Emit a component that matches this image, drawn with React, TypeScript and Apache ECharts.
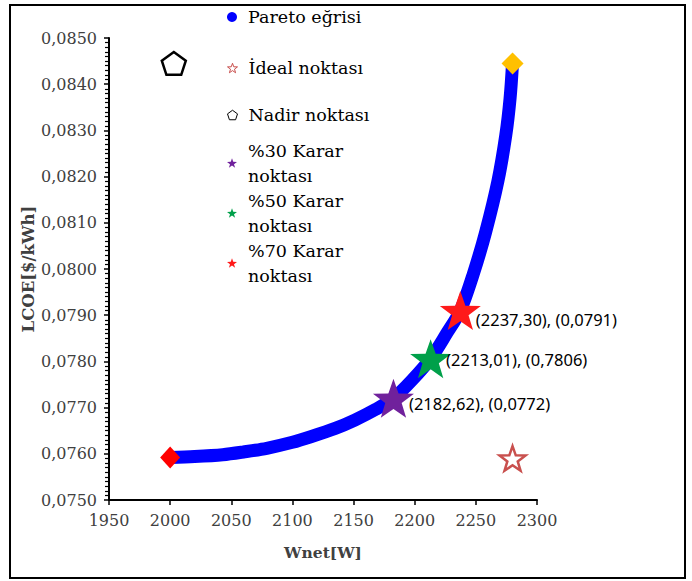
import React, { useEffect, useRef } from "react";
import * as echarts from "echarts";

// Pareto curve (Wnet [W], LCOE [$/kWh])
const paretoW = [2000, 2020, 2043, 2060, 2079, 2100, 2115, 2135, 2151, 2168, 2182.6, 2198, 2213, 2226, 2237.3, 2248, 2258, 2268, 2274.5, 2278, 2280];
const paretoLCOE = [0.07592, 0.07594, 0.07598, 0.07604, 0.07612, 0.07625, 0.07637, 0.07655, 0.07673, 0.07696, 0.0772, 0.0776, 0.07806, 0.0786, 0.0791, 0.0799, 0.0808, 0.0819, 0.0829, 0.0837, 0.08445];

// end points of the front
const minEndPoint = [2000, 0.07592];
const maxEndPoint = [2280, 0.08445];

// ideal and nadir points
const idealPoint = [2280, 0.0759];
const nadirPoint = [2003, 0.08445];

// decision points
const decisionNames = ["%30 Karar noktası", "%50 Karar noktası", "%70 Karar noktası"];
const decisionW = [2182.62, 2213.01, 2237.3];
const decisionLCOE = [0.0772, 0.07806, 0.0791];
const decisionLabels = ["(2182,62), (0,0772)", "(2213,01), (0,7806)", "(2237,30), (0,0791)"];
const decisionColors = ["#70219c", "#00a04a", "#ff1a1a"];
const decisionLabelOffsets = [[0, 5], [0, 1], [0, 9]];

// axis ticks
const xMin = 1950, xMax = 2300, xStep = 50;
const yMin = 0.075, yMax = 0.085, yStep = 0.001;

const STAR = "path://M100,0 L123.5,67.6 L195.1,69.1 L138,112.4 L158.8,180.9 L100,140 L41.2,180.9 L62,112.4 L4.9,69.1 L76.5,67.6 Z";
const PENTAGON = "path://M100,0 L195.1,69.1 L158.8,180.9 L41.2,180.9 L4.9,69.1 Z";

const SERIF = "DejaVu Serif";
const SANS = "Noto Sans";

export default function App() {
  const ref = useRef<HTMLDivElement>(null);
  useEffect(() => {
    document.body.style.margin = "0";
    const chart = echarts.init(ref.current!, null, { renderer: "svg" });

    const legendText = (multi: boolean) => ({
      fontFamily: SERIF,
      fontSize: 17.5,
      color: "#000",
      lineHeight: 25,
      padding: multi ? [25, 0, 0, 6] : [0, 0, 0, 6],
    });
    const legendCenters = [17, 68, 115, 163, 213, 263];
    const legendNames = ["Pareto eğrisi", "İdeal noktası", "Nadir noktası", ...decisionNames];
    const legends = legendNames.map((name, i) => {
      const multi = i >= 3;
      const lg: any = {
        data: [name],
        left: 227,
        top: legendCenters[i] - (multi ? 37.5 : 12.5),
        padding: 0,
        itemWidth: 10,
        itemHeight: 10,
        selectedMode: false,
        textStyle: legendText(multi),
        formatter: (n: string) => (multi ? n.replace(" noktası", "\nnoktası") : n),
      };
      if (i === 0) lg.icon = "circle";
      if (i === 1 || i === 2) lg.itemStyle = { borderWidth: 1 };
      return lg;
    });

    const series: any[] = [
      {
        name: "Pareto eğrisi",
        type: "line",
        data: paretoW.map((w, i) => [w, paretoLCOE[i]]),
        smooth: 0.3,
        showSymbol: false,
        symbol: "circle",
        lineStyle: { color: "#0000ff", width: 13 },
        itemStyle: { color: "#0000ff" },
        z: 2,
      },
      {
        name: "min",
        type: "scatter",
        data: [minEndPoint],
        symbol: "diamond",
        symbolSize: [20, 22],
        itemStyle: { color: "#ff0000", opacity: 1 },
        z: 3,
      },
      {
        name: "max",
        type: "scatter",
        data: [maxEndPoint],
        symbol: "diamond",
        symbolSize: [22, 22],
        itemStyle: { color: "#ffc000", opacity: 1 },
        z: 3,
      },
      {
        name: "İdeal noktası",
        type: "scatter",
        data: [idealPoint],
        symbol: STAR,
        symbolKeepAspect: true,
        symbolSize: 26,
        itemStyle: { color: "#ffffff", borderColor: "#c9504e", borderWidth: 2.5, opacity: 1 },
        z: 3,
      },
      {
        name: "Nadir noktası",
        type: "scatter",
        data: [nadirPoint],
        symbol: PENTAGON,
        symbolKeepAspect: true,
        symbolSize: 24,
        itemStyle: { color: "#ffffff", borderColor: "#000000", borderWidth: 2.5, opacity: 1 },
        z: 3,
      },
      ...decisionNames.map((name, i) => ({
        name,
        type: "scatter",
        data: [[decisionW[i], decisionLCOE[i]]],
        symbol: STAR,
        symbolKeepAspect: true,
        symbolSize: 41,
        itemStyle: { color: decisionColors[i], opacity: 1 },
        label: {
          show: true,
          position: "right",
          distance: -5,
          offset: decisionLabelOffsets[i],
          formatter: decisionLabels[i],
          fontFamily: SANS,
          fontSize: 16.5,
          color: "#000",
        },
        z: 4,
      })),
    ];

    chart.setOption({
      animation: false,
      backgroundColor: "#ffffff",
      textStyle: { fontFamily: SERIF },
      grid: { left: 109, right: 155, top: 38, bottom: 81, containLabel: false },
      legend: legends,
      graphic: [
        {
          type: "rect",
          shape: { x: 10, y: 5, width: 675, height: 573 },
          style: { fill: "none", stroke: "#000", lineWidth: 2 },
          silent: true,
        },
      ],
      xAxis: {
        type: "value",
        min: xMin,
        max: xMax,
        interval: xStep,
        name: "Wnet[W]",
        nameLocation: "middle",
        nameGap: 44,
        nameMoveOverlap: false,
        nameTextStyle: { fontFamily: SERIF, fontWeight: "bold", fontSize: 15.5, color: "#404040" },
        axisLine: { show: true, onZero: false, lineStyle: { color: "#000", width: 2 } },
        axisTick: { show: true, length: 5, lineStyle: { color: "#000", width: 1.5 } },
        axisLabel: { margin: 12, fontFamily: SERIF, fontSize: 16, color: "#404040", formatter: (v: number) => String(v) },
        splitLine: { show: false },
      },
      yAxis: {
        type: "value",
        min: yMin,
        max: yMax,
        interval: yStep,
        name: "LCOE[$/kWh]",
        nameLocation: "middle",
        nameGap: 72,
        nameMoveOverlap: false,
        nameTextStyle: { fontFamily: SERIF, fontWeight: "bold", fontSize: 16.5, color: "#404040" },
        axisLine: { show: true, onZero: false, lineStyle: { color: "#000", width: 2 } },
        axisTick: { show: true, length: 5, lineStyle: { color: "#000", width: 1.5 } },
        minorTick: { show: true, splitNumber: 10, length: 4, lineStyle: { color: "#000", width: 1.2 } },
        axisLabel: {
          margin: 12,
          fontFamily: SERIF,
          fontSize: 16,
          color: "#404040",
          formatter: (v: number) => v.toFixed(4).replace(".", ","),
        },
        splitLine: { show: false },
      },
      series,
    });
    return () => chart.dispose();
  }, []);
  return <div ref={ref} style={{ width: 692, height: 581 }} />;
}
